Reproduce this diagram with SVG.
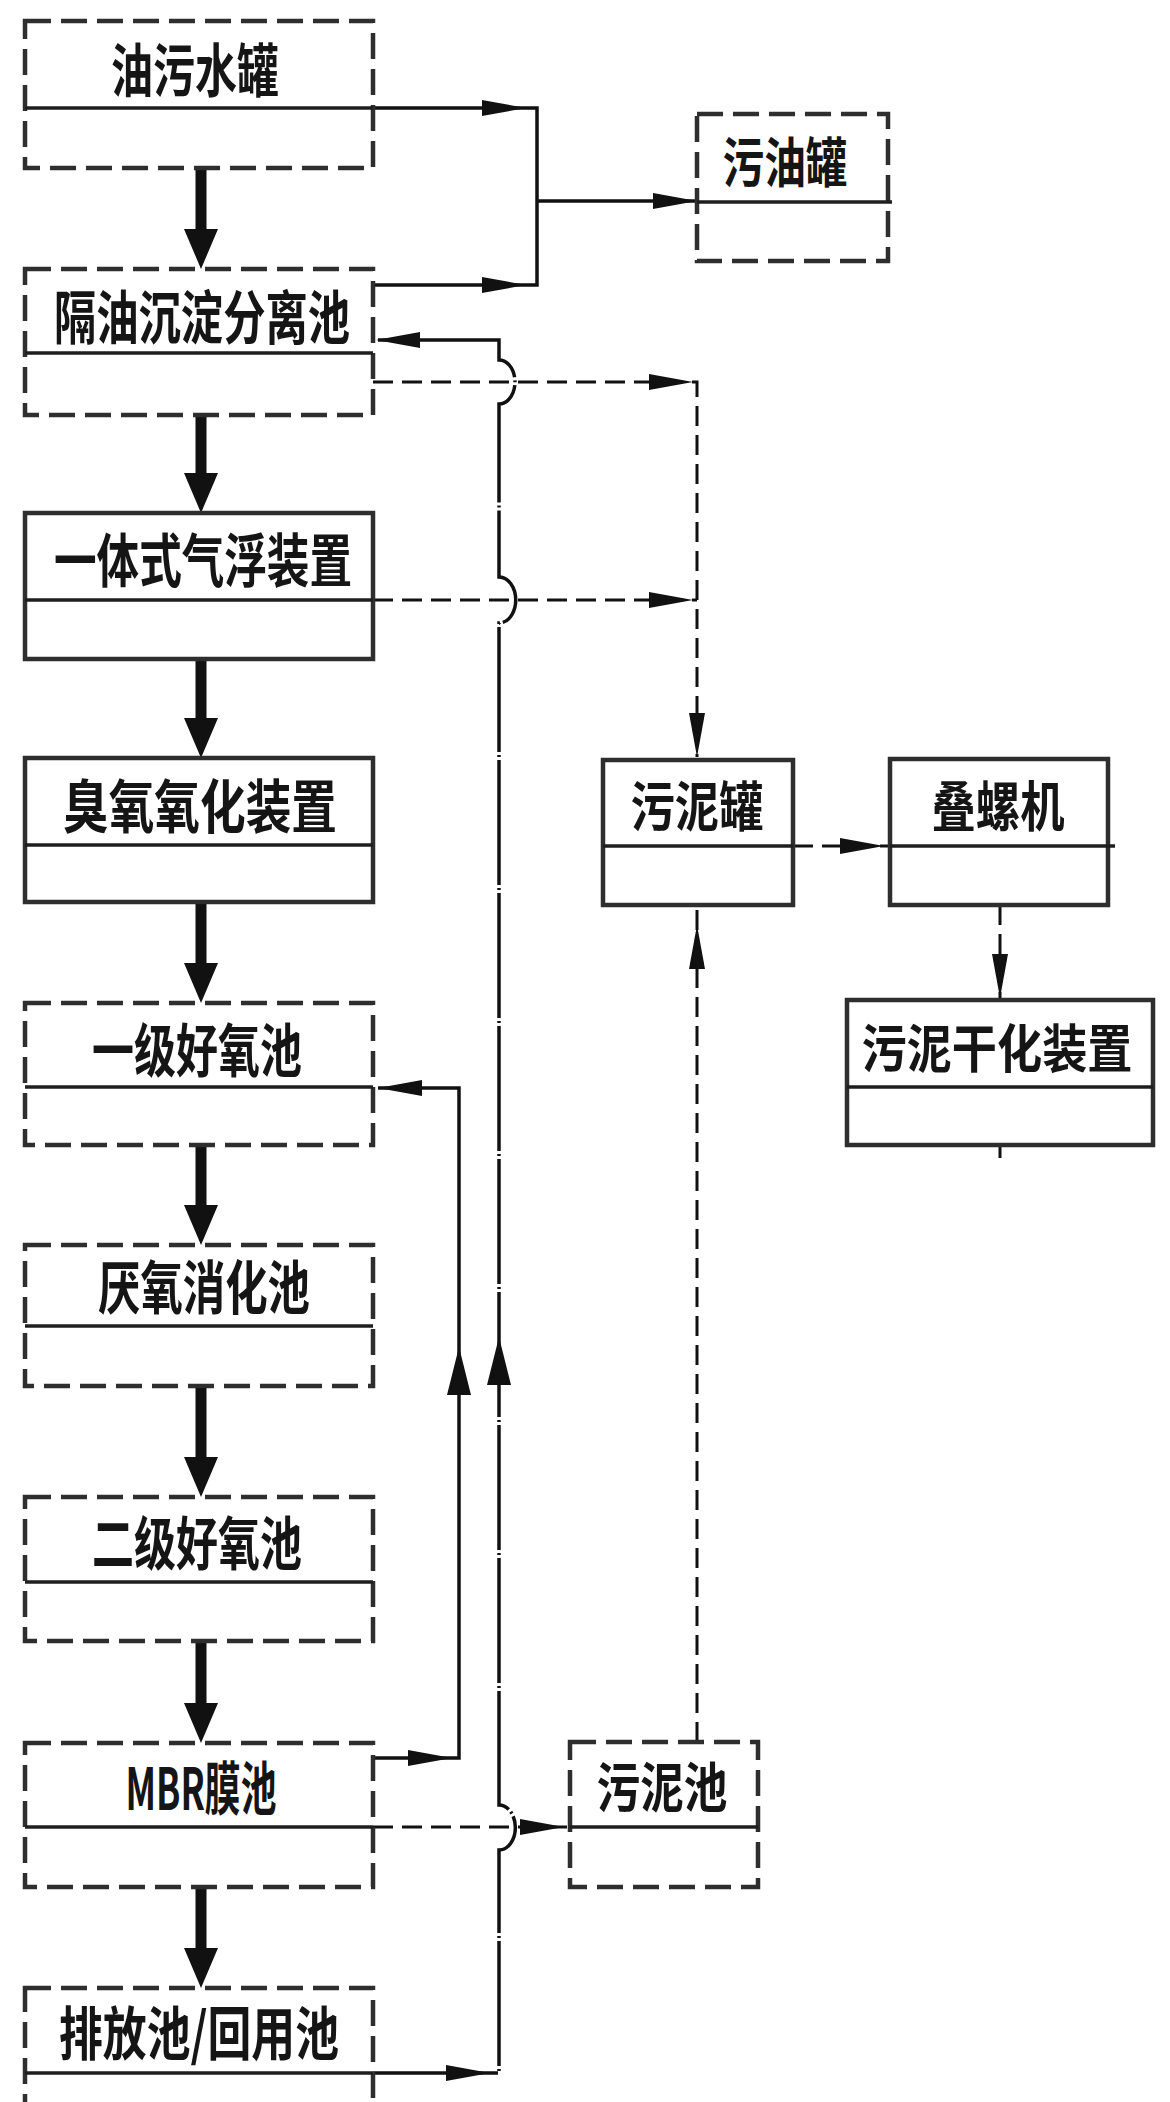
<svg xmlns="http://www.w3.org/2000/svg" xmlns:xlink="http://www.w3.org/1999/xlink" width="1170" height="2102" viewBox="0 0 1170 2102">
<style>
.box{fill:#fff;stroke:#2e2e2e;stroke-width:4.5}
.dbox{stroke-dasharray:26 10}
.div{stroke:#1e1e1e;stroke-width:3.5}
.ln{fill:none;stroke:#111;stroke-width:3.5}
.rc{fill:none;stroke:#111;stroke-width:3.5;stroke-dasharray:125 3 2 3}
.dl{fill:none;stroke:#111;stroke-width:3;stroke-dasharray:20 9}
.ah{fill:#111}
.big{fill:#111}
.lbl{font-family:"Noto Sans CJK SC","Noto Sans",sans-serif;font-weight:700;font-size:58px;fill:#151515;text-anchor:middle}
.sm{font-size:54px}
.xs{font-size:52px}
</style>
<defs>
<path id="ah" d="M0,0 L-44,-8 L-44,8 Z"/>
<path id="ahw" d="M0,0 L-48,-12 L-48,12 Z"/>
</defs>
<rect width="1170" height="2102" fill="#fff"/>

<g id="connectors">
  <path class="big" d="M195.5,168 H206.5 V229 H218 L201,269 L184,229 H195.5 Z"/>
  <path class="big" d="M195.5,415 H206.5 V473 H218 L201,513 L184,473 H195.5 Z"/>
  <path class="big" d="M195.5,659 H206.5 V718 H218 L201,758 L184,718 H195.5 Z"/>
  <path class="big" d="M195.5,902 H206.5 V963 H218 L201,1003 L184,963 H195.5 Z"/>
  <path class="big" d="M195.5,1145 H206.5 V1205 H218 L201,1245 L184,1205 H195.5 Z"/>
  <path class="big" d="M195.5,1386 H206.5 V1457 H218 L201,1497 L184,1457 H195.5 Z"/>
  <path class="big" d="M195.5,1641 H206.5 V1703 H218 L201,1743 L184,1703 H195.5 Z"/>
  <path class="big" d="M195.5,1887 H206.5 V1948 H218 L201,1988 L184,1948 H195.5 Z"/>

  <path class="ln" d="M373,108 H537 V285 H373"/>
  <use href="#ah" class="ah" transform="translate(526,108)"/>
  <use href="#ah" class="ah" transform="translate(526,285)"/>
  <path class="ln" d="M537,201 H697"/>
  <use href="#ah" class="ah" transform="translate(697,201)"/>

  <path class="rc" d="M373,2073 H499 V1850 A16,22 0 0 0 499,1805 V623 A16,22 0 0 0 499,577 V404 A16,22 0 0 0 499,360 V340 H378"/>
  <use href="#ah" class="ah" transform="translate(490,2073)"/>
  <use href="#ahw" class="ah" transform="translate(499,1337) rotate(-90)"/>
  <use href="#ah" class="ah" transform="translate(376,340) rotate(180)"/>

  <path class="ln" d="M373,1758 H459 V1088 H378"/>
  <use href="#ah" class="ah" transform="translate(452,1758)"/>
  <use href="#ahw" class="ah" transform="translate(459,1347) rotate(-90)"/>
  <use href="#ah" class="ah" transform="translate(378,1088) rotate(180)"/>

  <path class="dl" d="M373,382 H697 V757"/>
  <use href="#ah" class="ah" transform="translate(693,382)"/>
  <use href="#ah" class="ah" transform="translate(697,757) rotate(90)"/>
  <path class="dl" d="M373,600 H697"/>
  <use href="#ah" class="ah" transform="translate(693,600)"/>
  <path class="dl" d="M373,1827 H570"/>
  <use href="#ah" class="ah" transform="translate(564,1827)"/>
  <path class="dl" d="M697,1742 V905"/>
  <use href="#ah" class="ah" transform="translate(697,925) rotate(-90)"/>
  <path class="dl" d="M793,846 H890"/>
  <use href="#ah" class="ah" transform="translate(884,846)"/>
  <path class="dl" d="M1000,905 V1000"/>
  <use href="#ah" class="ah" transform="translate(1000,998) rotate(90)"/>
  <path class="ln" d="M1000,1145 V1158" style="stroke-width:3"/>
</g>

<g id="n-youwushuiguan">
  <rect class="box dbox" x="25" y="21" width="348" height="147"/>
  <line class="div" x1="25" y1="108" x2="373" y2="108"/>
  <text class="lbl" x="195" y="92" textLength="168" lengthAdjust="spacingAndGlyphs">油污水罐</text>
</g>
<g id="n-geyou">
  <rect class="box dbox" x="25" y="269" width="348" height="146"/>
  <line class="div" x1="25" y1="353" x2="373" y2="353"/>
  <text class="lbl" x="202" y="339" textLength="296" lengthAdjust="spacingAndGlyphs">隔油沉淀分离池</text>
</g>
<g id="n-qifu">
  <rect class="box" x="25" y="513" width="348" height="146"/>
  <line class="div" x1="25" y1="600" x2="373" y2="600"/>
  <text class="lbl" x="203" y="582" textLength="298" lengthAdjust="spacingAndGlyphs">一体式气浮装置</text>
</g>
<g id="n-chouyang">
  <rect class="box" x="25" y="758" width="348" height="144"/>
  <line class="div" x1="25" y1="845" x2="373" y2="845"/>
  <text class="lbl" x="200" y="828" textLength="274" lengthAdjust="spacingAndGlyphs">臭氧氧化装置</text>
</g>
<g id="n-yiji">
  <rect class="box dbox" x="25" y="1003" width="348" height="142"/>
  <line class="div" x1="25" y1="1087" x2="373" y2="1087"/>
  <text class="lbl" x="197" y="1072" textLength="210" lengthAdjust="spacingAndGlyphs">一级好氧池</text>
</g>
<g id="n-yanyang">
  <rect class="box dbox" x="25" y="1245" width="348" height="141"/>
  <line class="div" x1="25" y1="1326" x2="373" y2="1326"/>
  <text class="lbl" x="204" y="1309" textLength="212" lengthAdjust="spacingAndGlyphs">厌氧消化池</text>
</g>
<g id="n-erji">
  <rect class="box dbox" x="25" y="1497" width="348" height="144"/>
  <line class="div" x1="25" y1="1582" x2="373" y2="1582"/>
  <text class="lbl" x="197" y="1565" textLength="210" lengthAdjust="spacingAndGlyphs">二级好氧池</text>
</g>
<g id="n-mbr">
  <rect class="box dbox" x="25" y="1743" width="348" height="144"/>
  <line class="div" x1="25" y1="1827" x2="373" y2="1827"/>
  <text class="lbl" x="201" y="1810" textLength="151" lengthAdjust="spacingAndGlyphs">MBR膜池</text>
</g>
<g id="n-paifang">
  <rect class="box dbox" x="25" y="1988" width="348" height="150"/>
  <line class="div" x1="25" y1="2073" x2="373" y2="2073"/>
  <text class="lbl" x="199" y="2055" textLength="280" lengthAdjust="spacingAndGlyphs">排放池/回用池</text>
</g>
<g id="n-wuyouguan">
  <rect class="box dbox" x="697" y="114" width="191" height="147"/>
  <line class="div" x1="697" y1="202" x2="892" y2="202"/>
  <text class="lbl sm" x="785" y="183" textLength="125" lengthAdjust="spacingAndGlyphs">污油罐</text>
</g>
<g id="n-wuniguan">
  <rect class="box" x="603" y="760" width="190" height="145"/>
  <line class="div" x1="603" y1="846" x2="793" y2="846"/>
  <text class="lbl sm" x="697" y="827" textLength="133" lengthAdjust="spacingAndGlyphs">污泥罐</text>
</g>
<g id="n-dieluoji">
  <rect class="box" x="890" y="759" width="218" height="146"/>
  <line class="div" x1="890" y1="846" x2="1115" y2="846"/>
  <text class="lbl sm" x="998" y="827" textLength="133" lengthAdjust="spacingAndGlyphs">叠螺机</text>
</g>
<g id="n-ganhua">
  <rect class="box" x="847" y="1000" width="306" height="145"/>
  <line class="div" x1="847" y1="1087" x2="1153" y2="1087"/>
  <text class="lbl xs" x="997" y="1068" textLength="271" lengthAdjust="spacingAndGlyphs">污泥干化装置</text>
</g>
<g id="n-wunichi">
  <rect class="box dbox" x="570" y="1742" width="188" height="145"/>
  <line class="div" x1="570" y1="1827" x2="758" y2="1827"/>
  <text class="lbl sm" x="662" y="1808" textLength="131" lengthAdjust="spacingAndGlyphs">污泥池</text>
</g>
</svg>
